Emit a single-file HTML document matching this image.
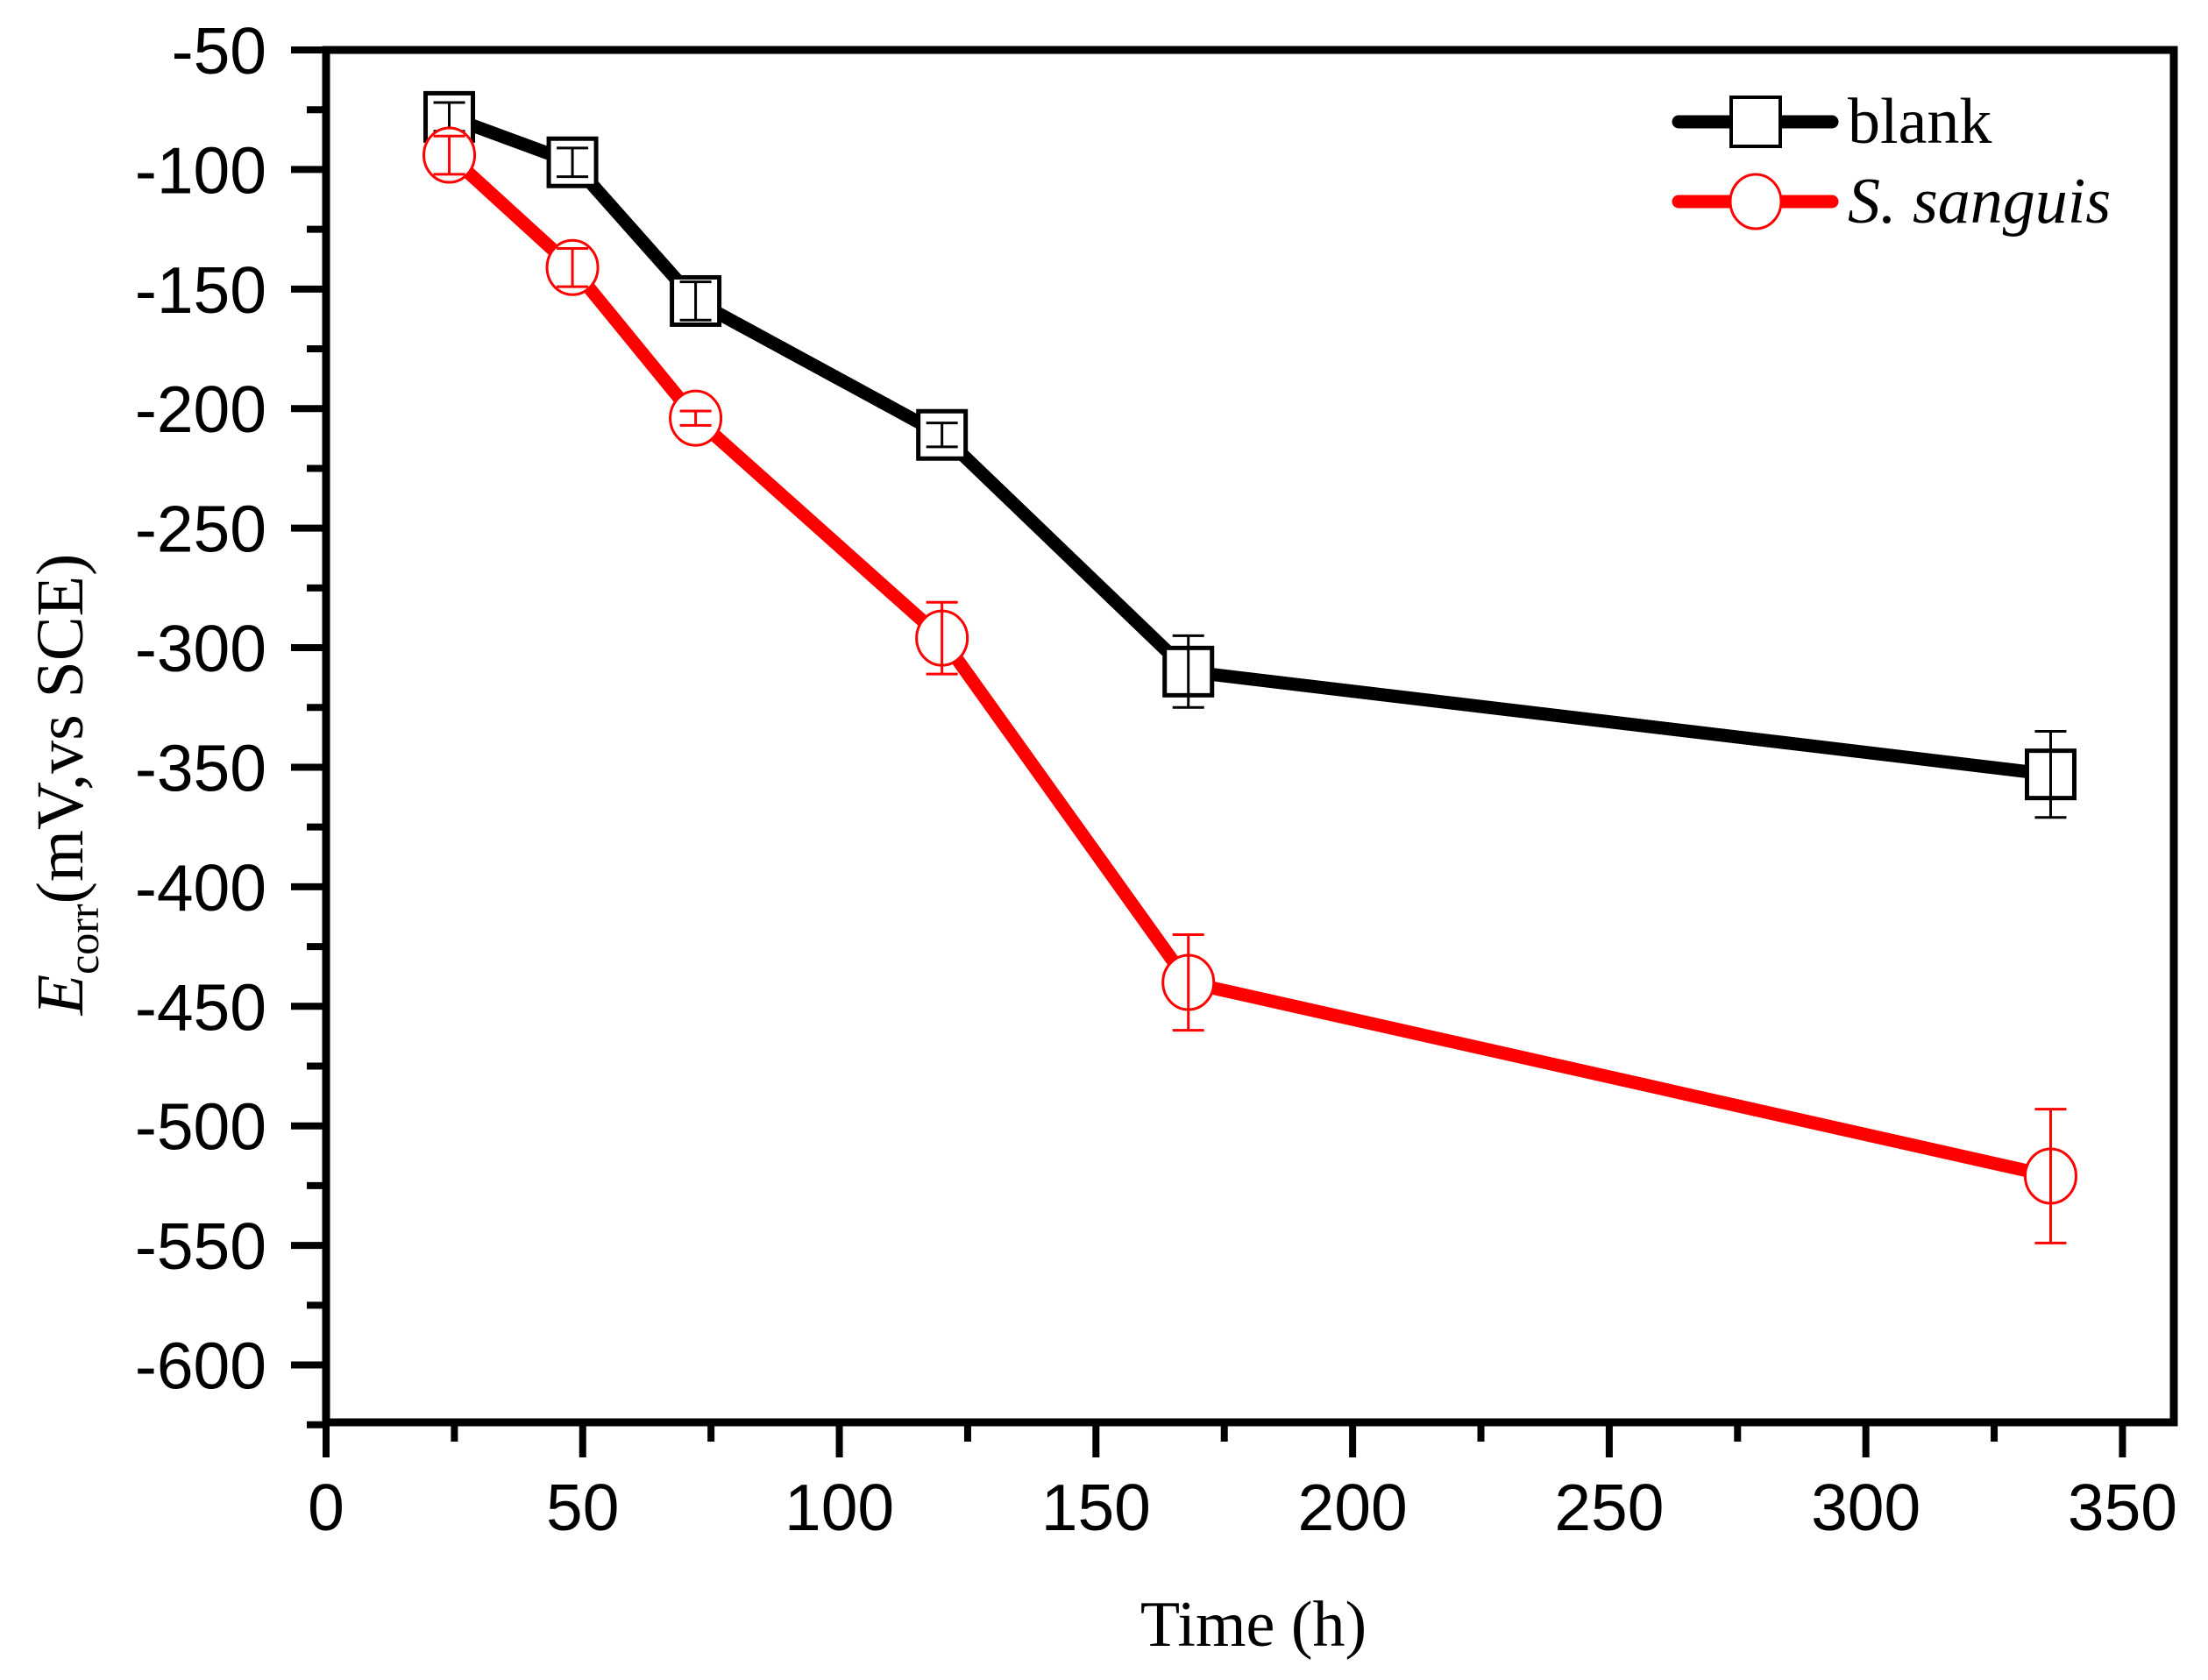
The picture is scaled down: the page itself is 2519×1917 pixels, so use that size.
<!DOCTYPE html>
<html><head><meta charset="utf-8"><style>
html,body{margin:0;padding:0;background:#fff;}
svg{display:block;}
.tk{font-family:"Liberation Sans",sans-serif;font-size:75px;fill:#000;}
.sr{font-family:"Liberation Serif",serif;fill:#000;}
</style></head><body>
<svg id="chart" width="2519" height="1917" viewBox="0 0 2519 1917" xmlns="http://www.w3.org/2000/svg">
<g id="plot"></g>
<text class="sr" x="1430" y="1878" font-size="74" text-anchor="middle">Time (h)</text>
<text class="sr" transform="translate(94,895) rotate(-90)" font-size="76" text-anchor="middle"><tspan font-style="italic">E</tspan><tspan font-size="50" dy="18">corr</tspan><tspan dy="-18">(mV,vs SCE)</tspan></text>
<g>
<line x1="1915" y1="139" x2="2090" y2="139" stroke="#000" stroke-width="15" stroke-linecap="round"/>
<rect x="1975" y="111" width="56" height="56" fill="#fff" stroke="#000" stroke-width="4"/>
<text class="sr" x="2108" y="163" font-size="74">blank</text>
<line x1="1915" y1="230" x2="2090" y2="230" stroke="#f00" stroke-width="15" stroke-linecap="round"/>
<ellipse cx="2003" cy="230" rx="29" ry="31" fill="#fff" stroke="#f00" stroke-width="3"/>
<text class="sr" x="2108" y="254" font-size="74" font-style="italic">S. sanguis</text>
</g>
</svg>
<script>
const times = [24, 48, 72, 120, 168, 336];
const blankVals = [-78, -97, -155, -211, -310, -353];
const blankErr = [6, 6, 8, 5, 15, 18];
const sangVals = [-94, -141, -204, -296, -440, -521];
const sangErr = [8, 8, 3, 15, 20, 28];
const xTicks = [0, 50, 100, 150, 200, 250, 300, 350];
const yTicks = [-50, -100, -150, -200, -250, -300, -350, -400, -450, -500, -550, -600];

const X0 = 372, X1 = 2480, Y0 = 57, Y1 = 1623;
const xMin = 0, xMax = 360, yMax = -50, yMin = -624;
function sx(v){ return X0 + (v - xMin) / (xMax - xMin) * (X1 - X0); }
function sy(v){ return Y0 + (yMax - v) / (yMax - yMin) * (Y1 - Y0); }
const NS = "http://www.w3.org/2000/svg";
const g = document.getElementById('plot');
function mk(tag, attrs){ const e = document.createElementNS(NS, tag); for (const k in attrs) e.setAttribute(k, attrs[k]); g.appendChild(e); return e; }

const fr = mk('rect', {x:X0, y:Y0, width:X1-X0, height:Y1-Y0, fill:'none', stroke:'#000', 'stroke-width':9});



for (let v = -50; v >= -625; v -= 25) {
  const major = (v % 50 === 0);
  const t = mk('line', {x1:X0 - (major ? 40 : 22), x2:X0, y1:sy(v), y2:sy(v), stroke:'#000', 'stroke-width':8});
  
  
}
yTicks.forEach(v => {
  const t = mk('text', {x:304, y:sy(v) + 27, 'text-anchor':'end', class:'tk'});
  t.textContent = v;
  
  
});
for (let v = 0; v <= 350; v += 25) {
  const major = (v % 50 === 0);
  const t = mk('line', {x1:sx(v), x2:sx(v), y1:Y1, y2:Y1 + (major ? 40 : 22), stroke:'#000', 'stroke-width':8});
  
  
}
xTicks.forEach(v => {
  const t = mk('text', {x:sx(v), y:1746, 'text-anchor':'middle', class:'tk'});
  t.textContent = v;
  
  
});

function series(vals, errs, color, kind, name){
  const pts = times.map((t, i) => sx(t) + ',' + sy(vals[i])).join(' ');
  const pl = mk('polyline', {points:pts, fill:'none', stroke:color, 'stroke-width':15, 'stroke-linejoin':'round'});
  
  
  times.forEach((t, i) => {
    const cx = sx(t), cy = sy(vals[i]);
    let m;
    if (kind === 'sq') m = mk('rect', {x:cx - 27, y:cy - 27, width:54, height:54, fill:'#fff', stroke:color, 'stroke-width':5});
    else m = mk('ellipse', {cx:cx, cy:cy, rx:29, ry:31, fill:'#fff', stroke:color, 'stroke-width':3});
    
    
    const yt = sy(vals[i] + errs[i]), yb = sy(vals[i] - errs[i]);
    const eb = mk('path', {d:`M${cx},${yt}V${yb}M${cx-18},${yt}H${cx+18}M${cx-18},${yb}H${cx+18}`, stroke:color, 'stroke-width':3, fill:'none'});
    
    
  });
}
series(blankVals, blankErr, '#000', 'sq', 'blank');
series(sangVals, sangErr, '#f00', 'ci', 'sanguis');
</script>
</body></html>
